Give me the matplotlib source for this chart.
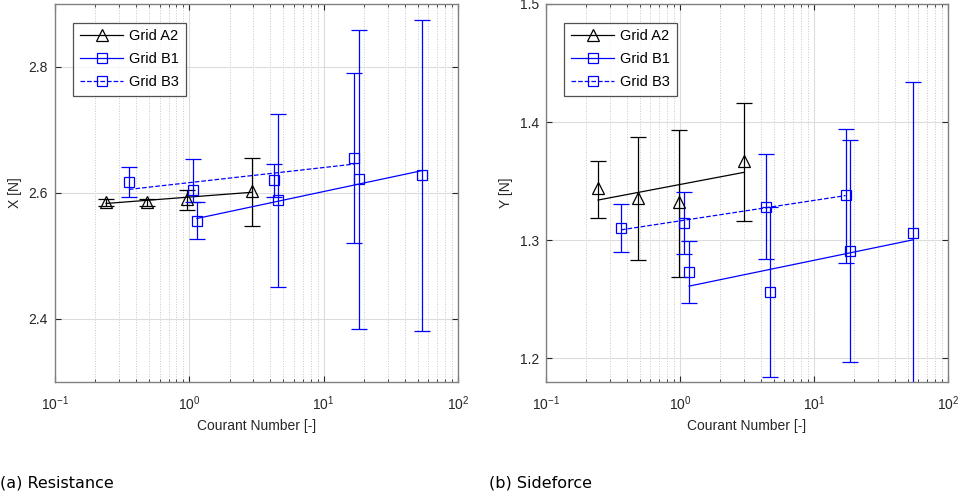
import numpy as np
import matplotlib.pyplot as plt
from matplotlib.lines import Line2D
from matplotlib.ticker import LogLocator

plt.rcParams['font.family'] = ['Liberation Sans', 'DejaVu Sans']
plt.rcParams['mathtext.fontset'] = 'custom'
plt.rcParams['mathtext.rm'] = 'Liberation Sans'

# (a) Resistance  -  X [N]
xa_a2 = [0.24, 0.48, 0.96, 2.94]
ya_a2 = [2.586, 2.586, 2.591, 2.603]
loa_a2 = [2.580, 2.580, 2.573, 2.547]
hia_a2 = [2.590, 2.591, 2.605, 2.656]

xa_b1 = [1.14, 4.59, 18.2, 53.9]
ya_b1 = [2.556, 2.589, 2.622, 2.629]
loa_b1 = [2.527, 2.451, 2.384, 2.381]
hia_b1 = [2.585, 2.725, 2.859, 2.875]

xa_b3 = [0.355, 1.06, 4.26, 16.8]
ya_b3 = [2.618, 2.605, 2.621, 2.656]
loa_b3 = [2.594, 2.585, 2.593, 2.521]
hia_b3 = [2.641, 2.654, 2.646, 2.790]

# (b) Sideforce  -  Y [N]
xb_a2 = [0.245, 0.49, 0.98, 3.0]
yb_a2 = [1.344, 1.336, 1.332, 1.367]
lob_a2 = [1.319, 1.283, 1.269, 1.316]
hib_a2 = [1.367, 1.387, 1.393, 1.416]

xb_b1 = [1.17, 4.67, 18.6, 54.5]
yb_b1 = [1.273, 1.256, 1.291, 1.306]
lob_b1 = [1.247, 1.184, 1.197, 1.178]
hib_b1 = [1.299, 1.328, 1.385, 1.434]

xb_b3 = [0.363, 1.08, 4.36, 17.2]
yb_b3 = [1.310, 1.315, 1.328, 1.338]
lob_b3 = [1.290, 1.288, 1.284, 1.281]
hib_b3 = [1.331, 1.341, 1.373, 1.394]

labels = ['Grid A2', 'Grid B1', 'Grid B3']


def series(ax, x, y, lo, hi, color, marker, ms, ls):
    x = np.array(x)
    y = np.array(y)
    err = [y - np.array(lo), np.array(hi) - y]
    ax.errorbar(x, y, yerr=err, fmt='none', ecolor=color, elinewidth=0.9,
                capsize=5.5, capthick=0.9, zorder=3)
    ax.plot(x, y, linestyle='none', marker=marker, ms=ms, mfc='none',
            mec=color, mew=0.9, zorder=4)
    # linear fit against log10 of the Courant number
    p = np.polyfit(np.log10(x), y, 1)
    xf = np.array([x.min(), x.max()])
    ax.plot(xf, np.polyval(p, np.log10(xf)), color=color, lw=0.9, ls=ls, zorder=3)


def style(ax, ylim, yticks, ylabel):
    ax.set_xscale('log')
    ax.set_xlim(0.1, 100)
    ax.set_ylim(*ylim)
    ax.set_yticks(yticks)
    ax.xaxis.set_minor_locator(LogLocator(base=10, subs=np.arange(2, 10)))
    ax.grid(True, which='major', color='#dcdcdc', lw=0.8, ls='-')
    ax.grid(True, which='minor', axis='x', color='#c8c8c8', lw=0.7, ls=':')
    ax.set_axisbelow(True)
    ax.tick_params(which='both', direction='in', top=True, right=True,
                   labelsize=10, colors='#262626')
    ax.tick_params(axis='x', pad=9)
    ax.tick_params(axis='y', pad=5)
    ax.tick_params(which='major', length=4)
    ax.tick_params(which='minor', length=2.5)
    for s in ax.spines.values():
        s.set_color('#808080')
        s.set_linewidth(1.0)
    ax.set_xlabel('Courant Number [-]', fontsize=10, color='#262626', labelpad=4)
    ax.set_ylabel(ylabel, fontsize=10, color='#262626', labelpad=5)
    handles = [
        Line2D([], [], color='k', lw=0.9, marker='^', ms=9, mfc='none', mew=0.9),
        Line2D([], [], color='b', lw=0.9, marker='s', ms=7, mfc='none', mew=0.9),
        Line2D([], [], color='b', lw=0.9, ls='--', marker='s', ms=7, mfc='none', mew=0.9),
    ]
    leg = ax.legend(handles, labels, loc='upper left', bbox_to_anchor=(0.045, 0.95),
                    borderaxespad=0, fontsize=10.5, fancybox=False, handlelength=3.0,
                    labelspacing=0.6, borderpad=0.45, handletextpad=0.4)
    leg.get_frame().set_edgecolor('#262626')
    leg.get_frame().set_linewidth(0.9)


fig = plt.figure(figsize=(9.65, 4.98), dpi=100)
ax1 = fig.add_axes([0.057, 0.233, 0.4176, 0.759])
ax2 = fig.add_axes([0.5658, 0.233, 0.4166, 0.759])

series(ax1, xa_a2, ya_a2, loa_a2, hia_a2, 'k', '^', 9, '-')
series(ax1, xa_b1, ya_b1, loa_b1, hia_b1, 'b', 's', 7, '-')
series(ax1, xa_b3, ya_b3, loa_b3, hia_b3, 'b', 's', 7, '--')
style(ax1, (2.3, 2.9), [2.4, 2.6, 2.8], 'X [N]')

series(ax2, xb_a2, yb_a2, lob_a2, hib_a2, 'k', '^', 9, '-')
series(ax2, xb_b1, yb_b1, lob_b1, hib_b1, 'b', 's', 7, '-')
series(ax2, xb_b3, yb_b3, lob_b3, hib_b3, 'b', 's', 7, '--')
style(ax2, (1.18, 1.5), [1.2, 1.3, 1.4, 1.5], 'Y [N]')

fig.text(0.0, 0.022, '(a) Resistance', fontsize=11.5, family='DejaVu Sans')
fig.text(0.507, 0.022, '(b) Sideforce', fontsize=11.5, family='DejaVu Sans')

fig.savefig('out.png', dpi=100)
